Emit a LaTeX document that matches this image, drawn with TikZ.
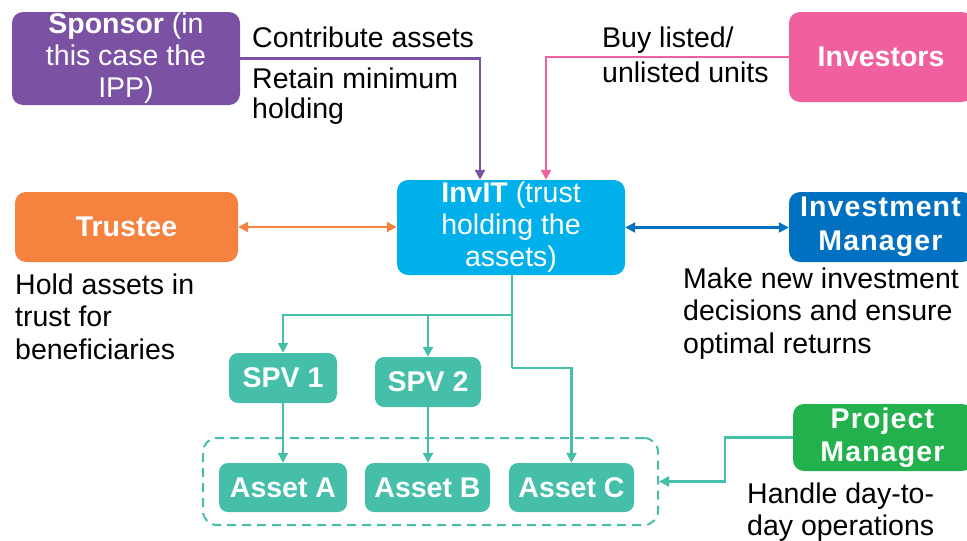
\documentclass[tikz,border=0pt]{standalone}
\usepackage{fontspec}
\setmainfont{Liberation Sans}
\usetikzlibrary{arrows.meta,calc}
\definecolor{cpurple}{HTML}{7B52A3}
\definecolor{cpink}{HTML}{F0609E}
\definecolor{ccyan}{HTML}{00B0EA}
\definecolor{corange}{HTML}{F5823F}
\definecolor{cblue}{HTML}{0070C0}
\definecolor{cteal}{HTML}{45BEAA}
\definecolor{cgreen}{HTML}{22B14C}
\tikzset{
  box/.style={rounded corners=11pt, fill=#1, text=white, align=center, inner sep=0pt,
    font=\fontsize{28.5}{32}\selectfont},
  lbl/.style={align=left, inner sep=0pt, text=black, font=\fontsize{28.5}{33}\selectfont},
  conn/.style={line width=2.2pt, draw=#1, -{Triangle[length=10pt,width=10pt]}},
  bconn/.style={line width=2.2pt, draw=#1, {Triangle[length=10pt,width=10pt]}-{Triangle[length=10pt,width=10pt]}},
  plainconn/.style={line width=2.2pt, draw=#1},
}
\begin{document}
\begin{tikzpicture}[x=1pt,y=1pt]
\useasboundingbox (0,0) rectangle (967,-541);
% boxes
\node[box=cpurple, minimum width=228pt, minimum height=93pt] (sponsor) at (126,-58.5) {\textbf{Sponsor} (in\\this case the\\IPP)};
\node[box=cpink, minimum width=184pt, minimum height=90pt] (investors) at (881,-57) {\textbf{Investors}};
\node[box=ccyan, minimum width=228pt, minimum height=95pt] (invit) at (511,-227.5) {\textbf{InvIT} (trust\\holding the\\assets)};
\node[box=corange, minimum width=223pt, minimum height=70pt] (trustee) at (126.5,-227) {\textbf{Trustee}};
\node[box=cblue, minimum width=184pt, minimum height=70pt, font=\fontsize{28.5}{34}\selectfont\addfontfeature{LetterSpace=4}] (invmgr) at (881,-227) {\textbf{Investment}\\\textbf{Manager}};
\node[box=cteal, minimum width=108pt, minimum height=50pt, rounded corners=9pt] (spv1) at (283,-378) {\textbf{SPV 1}};
\node[box=cteal, minimum width=106pt, minimum height=50pt, rounded corners=9pt] (spv2) at (428,-382) {\textbf{SPV 2}};
\node[box=cteal, minimum width=128pt, minimum height=49pt, rounded corners=9pt] (assetA) at (283,-487.5) {\textbf{Asset A}};
\node[box=cteal, minimum width=125pt, minimum height=49pt, rounded corners=9pt] (assetB) at (427.5,-487.5) {\textbf{Asset B}};
\node[box=cteal, minimum width=125pt, minimum height=49pt, rounded corners=9pt] (assetC) at (571.5,-487.5) {\textbf{Asset C}};
\node[draw=cteal, line width=2pt, dash pattern=on 9pt off 6pt, rounded corners=14pt, minimum width=455pt, minimum height=87pt, inner sep=0pt] (grp) at (430.5,-481.5) {};
\node[box=cgreen, minimum width=180pt, minimum height=67pt, font=\fontsize{28.5}{33}\selectfont\addfontfeature{LetterSpace=4}] (pm) at (883,-437.5) {\textbf{Project}\\\textbf{Manager}};
% labels (base = baseline of last line)
\node[lbl, anchor=base west] (tcontrib) at (252,-47) {Contribute assets};
\node[lbl, anchor=base west, font=\fontsize{28.5}{30}\selectfont] (tretain) at (252,-118) {Retain minimum\\holding};
\node[lbl, anchor=base west, font=\fontsize{28.5}{35}\selectfont] (tbuy) at (602,-82) {Buy listed/\\unlisted units};
\node[lbl, anchor=base west, font=\fontsize{28.5}{32.5}\selectfont] (thold) at (15,-359) {Hold assets in\\trust for\\beneficiaries};
\node[lbl, anchor=base west, font=\fontsize{28.5}{32.5}\selectfont] (tmake) at (683,-353) {Make new investment\\decisions and ensure\\optimal returns};
\node[lbl, anchor=base west, font=\fontsize{28.5}{32}\selectfont] (thandle) at (747,-535) {Handle day-to-\\day operations};
% connectors
\draw[conn=cpurple] (sponsor.east) -| ([xshift=-31pt]invit.north);
\draw[conn=cpink] (investors.west) -| ([xshift=35pt]invit.north);
\draw[bconn=corange] (trustee.east) -- (trustee.east -| invit.west);
\draw[bconn=cblue] (invit.east) -- (invit.east -| invmgr.west);
\coordinate (j) at (512,-315);
\coordinate (k) at (512,-368);
\draw[plainconn=cteal] (invit.south -| j) -- (k);
\draw[conn=cteal] (j) -| (spv1.north);
\draw[conn=cteal] (j) -| (spv2.north);
\draw[conn=cteal] (k) -| (assetC.north);
\draw[conn=cteal] (spv1.south) -- (assetA.north);
\draw[conn=cteal] (spv2.south) -- (spv2.south |- assetB.north);
\draw[conn=cteal] (pm.west) -- ++(-68,0) |- (grp.east);
\end{tikzpicture}
\end{document}
